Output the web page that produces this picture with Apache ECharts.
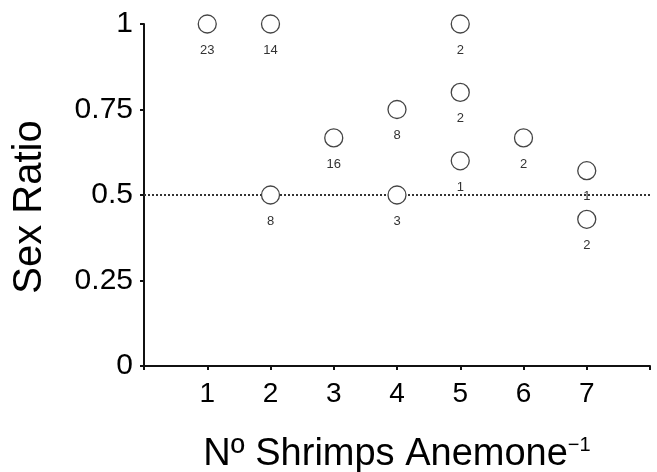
<!DOCTYPE html>
<html>
<head>
<meta charset="utf-8">
<script src="https://cdn.jsdelivr.net/npm/echarts@6/dist/echarts.min.js"></script>
<style>
  html, body { margin: 0; padding: 0; background: #fff; }
  #chart { width: 657px; height: 472px; }
</style>
</head>
<body>
<div id="chart"></div>
<script>
// Data
const shrimpsPerAnemone = [1, 2, 2, 3, 4, 4, 5, 5, 5, 6, 7, 7];
const sexRatio = [1, 1, 0.5, 0.667, 0.75, 0.5, 1, 0.8, 0.6, 0.667, 0.571, 0.429];
const sampleSizes = [23, 14, 8, 16, 8, 3, 2, 2, 1, 2, 1, 2];
const yTickLabels = ['0', '0.25', '0.5', '0.75', '1'];
const xTickLabels = ['1', '2', '3', '4', '5', '6', '7'];
const referenceLine = 0.5;

const FONT = "'Liberation Sans', Arial, Helvetica, sans-serif";
const points = shrimpsPerAnemone.map((x, i) => ({ value: [x, sexRatio[i]], n: sampleSizes[i] }));

const chart = echarts.init(document.getElementById('chart'), null, { renderer: 'canvas' });
chart.setOption({
  animation: false,
  backgroundColor: '#ffffff',
  grid: { left: 144, right: 7, top: 24, bottom: 106, containLabel: false, outerBoundsMode: 'none' },
  xAxis: {
    type: 'value', min: 0, max: 8, interval: 1,
    name: '{a|Nº Shrimps Anemone}{b|−1}',
    nameLocation: 'middle', nameGap: 69,
    nameTextStyle: {
      rich: {
        a: { fontFamily: FONT, fontSize: 38, color: '#000', lineHeight: 40 },
        b: { fontFamily: FONT, fontSize: 20, color: '#000', verticalAlign: 'top', lineHeight: 40, padding: [0, 0, 14, 0] }
      }
    },
    axisLine: { show: true, lineStyle: { color: '#111', width: 2 } },
    axisTick: { show: true, length: 4, inside: false, lineStyle: { color: '#111', width: 2 } },
    axisLabel: {
      fontFamily: FONT, fontSize: 28, color: '#000', margin: 14,
      formatter: v => (xTickLabels.indexOf(String(v)) >= 0 ? String(v) : '')
    },
    splitLine: { show: false }
  },
  yAxis: {
    type: 'value', min: 0, max: 1, interval: 0.25,
    name: 'Sex Ratio', nameLocation: 'middle', nameGap: 94, nameRotate: 90,
    nameTextStyle: { fontFamily: FONT, fontSize: 40, color: '#000', padding: [0, 24, 0, 0] },
    axisLine: { show: true, lineStyle: { color: '#111', width: 2 } },
    axisTick: { show: true, length: 4, lineStyle: { color: '#111', width: 2 } },
    axisLabel: {
      fontFamily: FONT, fontSize: 30, color: '#000', margin: 11,
      formatter: (v) => {
        const idx = Math.round(v / 0.25);
        return yTickLabels[idx] !== undefined ? yTickLabels[idx] : '';
      }
    },
    splitLine: { show: false }
  },
  series: [{
    type: 'scatter',
    data: points,
    symbol: 'circle',
    symbolSize: 18,
    itemStyle: { color: '#ffffff', borderColor: '#444', borderWidth: 1.3, opacity: 1 },
    label: {
      show: true, position: 'bottom', distance: 10,
      fontFamily: FONT, fontSize: 13, color: '#333',
      formatter: p => String(p.data.n)
    },
    markLine: {
      silent: true, symbol: ['none', 'none'],
      label: { show: false },
      lineStyle: { color: '#333', type: [2, 2], width: 2 },
      data: [{ yAxis: referenceLine }]
    },
    z: 5
  }]
});
</script>
</body>
</html>
